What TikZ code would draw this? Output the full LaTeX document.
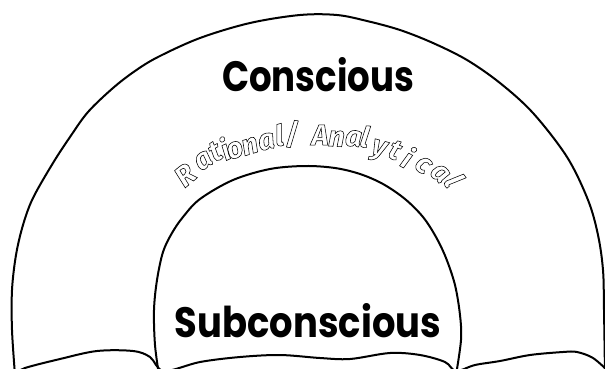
\documentclass[tikz,border=0pt]{standalone}
\usepackage{fontspec}
\newfontfamily\labelfont{Poppins}
\newfontfamily\curvefont{Fira Sans}
\newcommand{\outlinetext}{\special{pdf:literal direct 1 Tr 0.55 w}}
\def\sl{/}
\begin{document}
\begin{tikzpicture}[x=1pt,y=-1pt,
  arch/.style={draw=black, line width=2pt, line join=round, line cap=round},
  bigword/.style={inner sep=0pt, font=\labelfont\bfseries},
  curvechar/.style={inner sep=0pt, anchor=center, font=\curvefont\bfseries\itshape\fontsize{29}{29}\selectfont}]
\useasboundingbox (0,0) rectangle (605,368);
\fill[white] (0,0) rectangle (605,368);
\begin{scope}
\clip (0,0) rectangle (605,368);
% outer arch
\draw[arch] plot[smooth, tension=0.55] coordinates {(15,375) (12,330) (12,290) (16,255) (23,225) (33,198) (53,163) (70,137) (88,112) (113,88) (135,71) (158,57) (200,38) (250,23) (300,15) (337,15) (367,21) (400,30) (433,43) (467,60) (500,83) (533,113) (567,157) (588,200) (598,235) (603,270) (604,310) (605,375)};
% inner arch
\draw[arch] plot[smooth, tension=0.55] coordinates {(159,375) (155,345) (154,310) (157,280) (163,252) (172,233) (183,217) (200,199) (233,180) (270,169) (305,166) (335,168) (360,174) (383,184) (405,199) (423,217) (436,237) (446,258) (455,285) (460,315) (461,340) (456,375)};
% wave
\draw[arch] plot[smooth, tension=0.55] coordinates {(18,373) (25,368) (60,359) (97,351) (133,351) (150,357) (164,371) (200,362) (240,357) (280,355) (320,358) (350,359) (390,353) (420,355) (445,362) (456,371) (475,365) (500,361) (530,355) (563,352) (577,352) (593,358) (608,371)};
\end{scope}
\node[bigword] (conscious) at (318,75) {\resizebox{192pt}{34pt}{Conscious}};
\node[bigword] (subconscious) at (308,320.5) {\resizebox{266pt}{34pt}{Subconscious}};
\foreach \c/\px/\py/\r [count=\i] in {R/185/175/40, a/203.5/160.5/33, t/215/151.5/28, i/224.5/148.5/25, o/235/150/22, n/250/146/17, a/266.5/141.5/12, l/279/135/8, \sl/292/134/5, A/320/135/0, n/336.5/138.5/-3, a/353.5/138.5/-6, l/365/136.5/-10, y/378.5/151/-15, t/395/150/-22, i/408/157/-28, c/423/165/-35, a/440/173.5/-42, l/454.5/180/-60}
  \node[curvechar, rotate=\r] (ch\i) at (\px,\py) {\outlinetext\c};
\end{tikzpicture}
\end{document}
